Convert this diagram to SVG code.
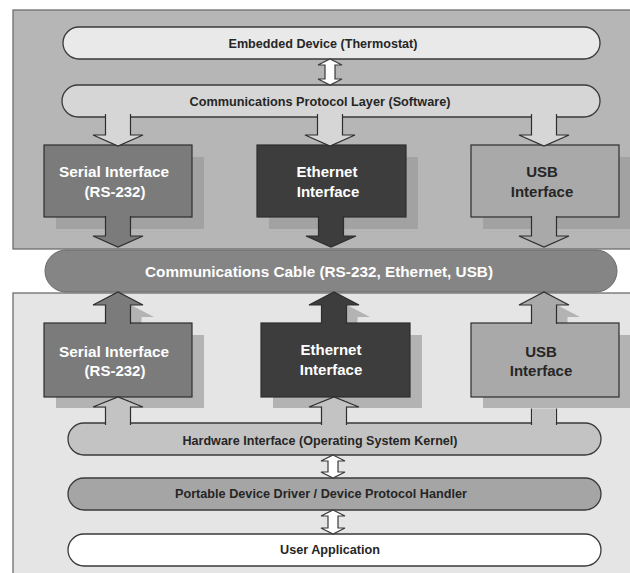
<svg xmlns="http://www.w3.org/2000/svg" width="630" height="573" viewBox="0 0 630 573">
<defs>
<style>
.panel{stroke:#6e6e6e;stroke-width:1.3}
.pill{stroke:#3a3a3a;stroke-width:1.3}
.box{stroke:#2e2e2e;stroke-width:1.2}
.arr{stroke:#2e2e2e;stroke-width:1.2;stroke-linejoin:miter}
.dbl{fill:#ffffff;stroke:#3a3a3a;stroke-width:1.2}
.lbl{font-family:"Liberation Sans",Arial,sans-serif;font-weight:bold;font-size:12.6px;fill:#262626;text-anchor:middle}
.big{font-family:"Liberation Sans",Arial,sans-serif;font-weight:bold;font-size:15px;text-anchor:middle}
.w{fill:#ffffff}
.d{fill:#262626}
</style>
</defs>
<rect width="630" height="573" fill="#ffffff"/>
<g id="panel-device">
<rect class="panel" x="13" y="10" width="630" height="239" fill="#b6b6b6"/>
</g>
<g id="panel-host">
<rect class="panel" x="13" y="293" width="630" height="290" fill="#e5e5e5"/>
</g>

<g id="embedded-device">
<rect class="pill" x="63" y="27" width="537" height="32" rx="16" fill="#e9e9e9"/>
<text class="lbl" x="323" y="47.5" textLength="189" lengthAdjust="spacingAndGlyphs">Embedded Device (Thermostat)</text>
</g>
<g id="protocol-layer">
<rect class="pill" x="62" y="85" width="538" height="32" rx="16" fill="#d6d6d6"/>
<text class="lbl" x="320" y="105.5" textLength="261" lengthAdjust="spacingAndGlyphs">Communications Protocol Layer (Software)</text>
</g>

<g id="shadows-top" fill="#a2a2a2">
<rect x="56" y="157" width="148" height="72"/>
<rect x="269" y="157" width="149" height="72"/>
<rect x="483" y="157" width="148" height="72"/>
</g>

<g id="serial-top">
<rect class="box" x="44" y="145" width="148" height="72" fill="#7b7b7b"/>
<text class="big w" x="114" y="177" textLength="110" lengthAdjust="spacingAndGlyphs">Serial Interface</text>
<text class="big w" x="115" y="197">(RS-232)</text>
</g>
<g id="ethernet-top">
<rect class="box" x="257" y="145" width="149" height="72" fill="#3d3d3d"/>
<text class="big w" x="327" y="177">Ethernet</text>
<text class="big w" x="328" y="197">Interface</text>
</g>
<g id="usb-top">
<rect class="box" x="471" y="145" width="148" height="72" fill="#a9a9a9"/>
<text class="big d" x="542" y="177">USB</text>
<text class="big d" x="542" y="197">Interface</text>
</g>

<g id="cable">
<rect x="45" y="250" width="572" height="42" rx="21" fill="#858585" stroke="#6a6a6a" stroke-width="1"/>
<text class="big w" x="319" y="276.5" style="font-size:15.3px" textLength="348" lengthAdjust="spacingAndGlyphs">Communications Cable (RS-232, Ethernet, USB)</text>
</g>

<g id="arrow-shadows" fill="#b3b3b3">
<path d="M117.5,336 V317 H104 L129,304 L154,317 H141.5 V336 Z"/>
<path d="M333.5,336 V317 H320 L345,304 L370,317 H357.5 V336 Z"/>
<path d="M543.5,336 V317 H530 L555,304 L580,317 H567.5 V336 Z"/>
</g>

<g id="shadows-bottom" fill="#b3b3b3">
<rect x="56" y="335" width="148" height="73"/>
<rect x="273" y="335" width="149" height="73"/>
<rect x="483" y="335" width="148" height="73"/>
</g>

<g id="hardware-interface">
<rect class="pill" x="68" y="423" width="533" height="32" rx="16" fill="#c3c3c3"/>
<text class="lbl" x="320" y="444.5" textLength="275" lengthAdjust="spacingAndGlyphs">Hardware Interface (Operating System Kernel)</text>
</g>
<g id="device-driver">
<rect class="pill" x="68" y="478" width="533" height="32" rx="16" fill="#a5a5a5"/>
<text class="lbl" x="321" y="497.5" textLength="292" lengthAdjust="spacingAndGlyphs">Portable Device Driver / Device Protocol Handler</text>
</g>
<g id="user-application">
<rect class="pill" x="68" y="534" width="533" height="32" rx="16" fill="#ffffff"/>
<text class="lbl" x="330" y="553.5" textLength="100" lengthAdjust="spacingAndGlyphs">User Application</text>
</g>

<g id="serial-bottom">
<rect class="box" x="44" y="323" width="148" height="74" fill="#7b7b7b"/>
<text class="big w" x="114" y="357" textLength="110" lengthAdjust="spacingAndGlyphs">Serial Interface</text>
<text class="big w" x="115" y="376">(RS-232)</text>
</g>
<g id="ethernet-bottom">
<rect class="box" x="261" y="323" width="149" height="74" fill="#3d3d3d"/>
<text class="big w" x="331" y="355">Ethernet</text>
<text class="big w" x="331" y="375">Interface</text>
</g>
<g id="usb-bottom">
<rect class="box" x="471" y="323" width="148" height="74" fill="#a9a9a9"/>
<text class="big d" x="541" y="357">USB</text>
<text class="big d" x="541" y="376">Interface</text>
</g>

<g id="connectors">
<!-- double arrows -->
<path class="dbl" d="M330,59 L342,65 H335 V79 H342 L330,85 L318,79 H325 V65 H318 Z"/>
<path class="dbl" d="M333,455 L345,461 H338 V472 H345 L333,478 L321,472 H328 V461 H321 Z"/>
<path class="dbl" d="M333,510 L345,516 H338 V528 H345 L333,534 L321,528 H328 V516 H321 Z"/>
<!-- protocol layer to interfaces -->
<path class="arr" fill="#d6d6d6" d="M105.5,114 V135 H93 L118,146 L143,135 H130.5 V114"/>
<path class="arr" fill="#d6d6d6" d="M317.5,114 V135 H305 L330,146 L355,135 H342.5 V114"/>
<path class="arr" fill="#d6d6d6" d="M531.5,114 V135 H519 L544,146 L569,135 H556.5 V114"/>
<!-- interfaces down to cable -->
<path class="arr" fill="#7b7b7b" d="M105.5,216 V236 H93 L118,247 L143,236 H130.5 V216"/>
<path class="arr" fill="#3d3d3d" d="M318.5,216 V236 H306 L331,247 L356,236 H343.5 V216"/>
<path class="arr" fill="#a9a9a9" d="M531.5,216 V236 H519 L544,247 L569,236 H556.5 V216"/>
<!-- interfaces up to cable -->
<path class="arr" fill="#7b7b7b" d="M105.5,324 V305 H93 L118,292 L143,305 H130.5 V324"/>
<path class="arr" fill="#3d3d3d" d="M321.5,324 V305 H309 L334,292 L359,305 H346.5 V324"/>
<path class="arr" fill="#a9a9a9" d="M531.5,324 V305 H519 L544,292 L569,305 H556.5 V324"/>
<!-- hardware interface up to interfaces -->
<path class="arr" fill="#c3c3c3" d="M105.5,425 V407 H93 L118,397 L143,407 H130.5 V425"/>
<path class="arr" fill="#c3c3c3" d="M321.5,425 V407 H309 L334,397 L359,407 H346.5 V425"/>
<path class="arr" fill="#c3c3c3" d="M531.5,425 V408.5 M556.5,408.5 V425"/>
<rect x="532.1" y="408.5" width="23.8" height="15.8" fill="#c3c3c3"/>
</g>
</svg>
